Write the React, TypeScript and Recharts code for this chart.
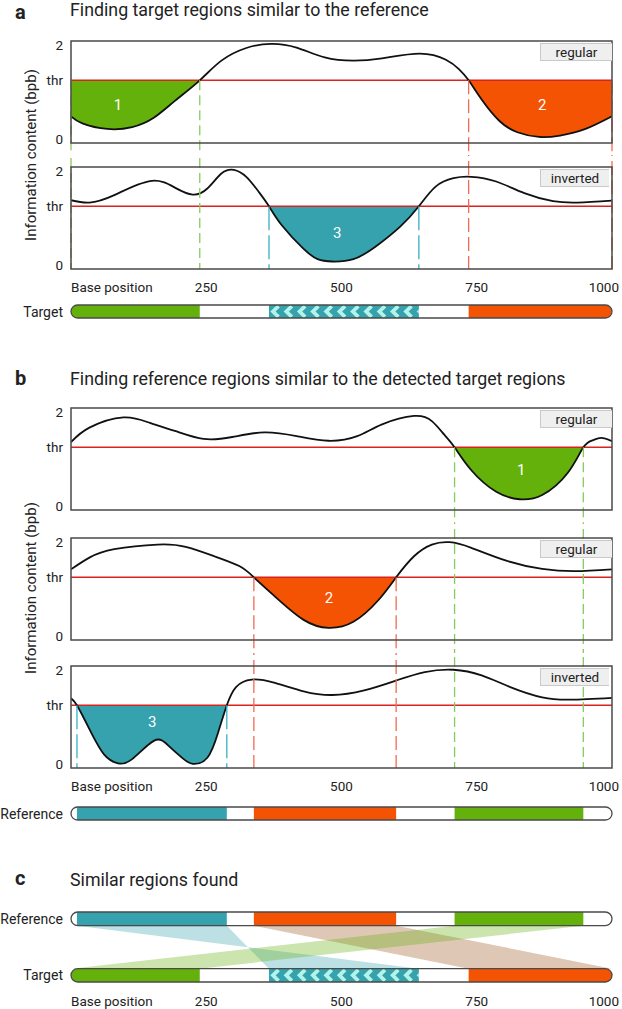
import React from "react";
import {
  ComposedChart,
  Line,
  Area,
  XAxis,
  YAxis,
  ReferenceLine,
  ReferenceArea,
  ReferenceDot,
} from "recharts";

// ============================================
// Data
// ============================================

const THR = 1.25;
const X_TICKS = [0, 250, 500, 750, 1000];
const Y_TICKS = [0, THR, 2];

// information content curves: [base position, bpb]
const curveA1 = [
  [0, 0.48], [21, 0.33], [67, 0.21], [113, 0.25], [153, 0.45], [192, 0.81], [238, 1.25],
  [278, 1.67], [324, 1.94], [370, 2.03], [417, 1.95], [469, 1.74], [522, 1.67], [575, 1.72],
  [645, 1.82], [693, 1.69], [717, 1.49], [735, 1.25], [759, 0.84], [792, 0.38],
  [825, 0.14], [865, 0.04], [904, 0.07], [951, 0.21], [1000, 0.48],
];
const curveA2 = [
  [0, 1.38], [34, 1.33], [80, 1.49], [146, 1.79], [192, 1.65], [225, 1.5], [252, 1.63],
  [278, 1.95], [301, 2.03], [324, 1.88], [347, 1.56], [366, 1.25], [390, 0.84], [430, 0.34],
  [456, 0.12], [483, 0.07], [522, 0.12], [562, 0.38], [608, 0.81], [643, 1.25], [674, 1.67],
  [707, 1.85], [740, 1.88], [786, 1.78], [838, 1.53], [891, 1.36], [937, 1.33], [1000, 1.37],
];
const curveB1 = [
  [0, 1.36], [34, 1.67], [97, 1.89], [146, 1.77], [192, 1.6], [245, 1.43], [298, 1.47],
  [357, 1.57], [417, 1.49], [476, 1.39], [529, 1.49], [575, 1.74], [634, 1.92], [667, 1.81],
  [690, 1.52], [709, 1.25], [740, 0.76], [786, 0.3], [829, 0.14], [871, 0.23], [918, 0.7],
  [947, 1.25], [964, 1.4], [980, 1.45], [1000, 1.38],
];
const curveB2 = [
  [0, 1.42], [34, 1.67], [80, 1.85], [160, 1.95], [212, 1.9], [265, 1.7], [311, 1.49],
  [338, 1.25], [377, 0.84], [430, 0.34], [476, 0.17], [522, 0.3], [568, 0.76], [601, 1.25],
  [634, 1.7], [667, 1.95], [700, 2.0], [740, 1.88], [806, 1.6], [871, 1.43], [931, 1.38],
  [1000, 1.42],
];
const curveB3 = [
  [0, 1.4], [11, 1.25], [34, 0.74], [61, 0.2], [87, 0.01], [113, 0.1], [153, 0.49],
  [179, 0.4], [206, 0.12], [225, 0.0], [252, 0.13], [272, 0.67], [288, 1.25], [305, 1.64],
  [334, 1.8], [377, 1.73], [430, 1.55], [483, 1.47], [542, 1.57], [601, 1.78], [654, 1.96],
  [707, 2.01], [759, 1.89], [812, 1.64], [871, 1.42], [924, 1.37], [1000, 1.41],
];

// regions below threshold
const regionsA1 = [{ id: 1, from: 0, to: 238 }, { id: 2, from: 735, to: 1000 }];
const regionsA2 = [{ id: 3, from: 366, to: 643, inverted: true }];
const regionsB1 = [{ id: 1, from: 709, to: 947 }];
const regionsB2 = [{ id: 2, from: 338, to: 601 }];
const regionsB3 = [{ id: 3, from: 11, to: 288 }];

// where the region numbers sit [position, bpb]
const labelsA1 = [[87, 0.73], [871, 0.73]];
const labelsA2 = [[492, 0.67]];
const labelsB1 = [[832, 0.77]];
const labelsB2 = [[477, 0.8]];
const labelsB3 = [[150, 0.89]];

// ============================================
// Style
// ============================================

const W = 622;
const PLOT_H = 102;
const Y_MIN = -0.09;
const Y_MAX = 2.09;
const TEXT = "#222";
const EDGE = "#4a4a4a";
const RED = "#d9231d";
const CURVE = "natural";

const FILL: Record<number, string> = { 1: "#64b10c", 2: "#f45304", 3: "#35a2ae" };
const DASH_COLOR: Record<number, string> = { 1: "#86cc5c", 2: "#f26a55", 3: "#3ab0c2" };
const DASH: Record<number, string> = { 1: "10 5", 2: "14 5", 3: "24 5" };
const BAND: Record<number, string> = { 1: "#64b10c", 2: "#9e541d", 3: "#35a2ae" };

type Region = { id: number; from: number; to: number; inverted?: boolean };

interface PlotSpec {
  curve: number[][];
  regions: Region[];
  labels: number[][];
  mode: string;
  top: number;
  padTop: number;
  padBottom: number;
}

const panelA: PlotSpec[] = [
  { curve: curveA1, regions: regionsA1, labels: labelsA1, mode: "regular", top: 29, padTop: 12, padBottom: 12 },
  { curve: curveA2, regions: regionsA2, labels: labelsA2, mode: "inverted", top: 155, padTop: 12, padBottom: 26 },
];
const panelB: PlotSpec[] = [
  { curve: curveB1, regions: regionsB1, labels: labelsB1, mode: "regular", top: 396, padTop: 12, padBottom: 14 },
  { curve: curveB2, regions: regionsB2, labels: labelsB2, mode: "regular", top: 524, padTop: 14, padBottom: 13 },
  { curve: curveB3, regions: regionsB3, labels: labelsB3, mode: "inverted", top: 653, padTop: 13, padBottom: 26 },
];

const targetSegs: Region[] = [...regionsA1, ...regionsA2];
const referenceSegs: Region[] = [...regionsB1, ...regionsB2, ...regionsB3].sort((a, b) => a.from - b.from);

// ============================================
// Pieces
// ============================================

const XTick = (props: any) => {
  const { x, y, payload } = props;
  const v = payload.value;
  const anchor = v === 0 ? "start" : v === 1000 ? "end" : "middle";
  return (
    <text x={v === 1000 ? x + 7 : x} y={y} dy="0.71em" textAnchor={anchor} fill={TEXT} fontSize={13.5}>
      {v === 0 ? "Base position" : String(v)}
    </text>
  );
};

const Chevrons = ({ x, y, width, height }: any) => {
  const marks = [];
  for (let cx = 2.5; cx < width; cx += 13.3) {
    marks.push(
      <path
        key={cx}
        d={`M ${cx + 7} 1.2 L ${cx + 1.5} ${height / 2} L ${cx + 7} ${height - 1.2}`}
        stroke="#b2f4ea"
        strokeWidth={3.8}
        fill="none"
      />
    );
  }
  return (
    <svg x={x} y={y} width={width} height={height}>
      {marks}
    </svg>
  );
};

function trackAreas(segs: Region[], y1: number, y2: number, clipId: string, chevrons: boolean) {
  return [
    <ReferenceArea
      key={clipId + "-bg"}
      x1={0}
      x2={1000}
      y1={y1}
      y2={y2}
      ifOverflow="visible"
      zIndex={300}
      shape={(p: any) => (
        <g>
          <defs>
            <clipPath id={clipId}>
              <rect x={p.x} y={p.y} width={p.width} height={p.height} rx={p.height / 2} />
            </clipPath>
          </defs>
          <rect x={p.x} y={p.y} width={p.width} height={p.height} rx={p.height / 2} fill="#fff" />
        </g>
      )}
    />,
    ...segs.map((s) => (
      <ReferenceArea
        key={clipId + s.id}
        x1={s.from}
        x2={s.to}
        y1={y1}
        y2={y2}
        ifOverflow="visible"
        zIndex={310}
        shape={(p: any) => (
          <g clipPath={`url(#${clipId})`}>
            <rect x={p.x} y={p.y} width={p.width} height={p.height} fill={FILL[s.id]} />
            {chevrons && s.inverted ? <Chevrons {...p} /> : null}
          </g>
        )}
      />
    )),
    <ReferenceArea
      key={clipId + "-edge"}
      x1={0}
      x2={1000}
      y1={y1}
      y2={y2}
      ifOverflow="visible"
      zIndex={320}
      shape={(p: any) => (
        <rect x={p.x} y={p.y} width={p.width} height={p.height} rx={p.height / 2} fill="none" stroke={EDGE} strokeWidth={1.3} />
      )}
    />,
  ];
}

function Plot({ plot, carried, last }: { plot: PlotSpec; carried: Region[]; last: boolean }) {
  const data = plot.curve.map(([x, y]) => ({ x, y }));
  const h = plot.padTop + PLOT_H + plot.padBottom;
  const low = last ? Y_MIN : Y_MIN - 5;
  return (
    <div style={{ position: "absolute", left: 0, top: plot.top }}>
      <ComposedChart
        width={W}
        height={h}
        data={data}
        margin={{ top: plot.padTop, right: 10, left: 0, bottom: last ? 0 : plot.padBottom }}
      >
        <XAxis
          type="number"
          dataKey="x"
          domain={[0, 1000]}
          ticks={X_TICKS}
          interval={0}
          hide={!last}
          height={last ? plot.padBottom : 0}
          axisLine={false}
          tickLine={false}
          tickMargin={7}
          tick={<XTick />}
          allowDataOverflow
        />
        <YAxis
          type="number"
          domain={[Y_MIN, Y_MAX]}
          ticks={Y_TICKS}
          interval={0}
          width={71}
          axisLine={false}
          tickLine={false}
          tickFormatter={(v: number) => (v === THR ? "thr" : String(v))}
          tick={{ fill: TEXT, fontSize: 13.5 }}
          allowDataOverflow
        />
        {plot.regions.map((r) => (
          <Area
            key={"fill" + r.id}
            type={CURVE}
            dataKey={(d: any) => (d.x >= r.from && d.x <= r.to ? [d.y, THR] : null)}
            stroke="none"
            fill={FILL[r.id]}
            fillOpacity={1}
            isAnimationActive={false}
            zIndex={100}
          />
        ))}
        <ReferenceLine y={THR} stroke={RED} strokeWidth={1.6} zIndex={200} />
        <Line
          type={CURVE}
          dataKey="y"
          stroke="#111"
          strokeWidth={1.8}
          dot={false}
          activeDot={false}
          isAnimationActive={false}
          zIndex={300}
        />
        {carried.flatMap((r) =>
          [r.from, r.to].map((x) => (
            <ReferenceLine
              key={"c" + r.id + "-" + x}
              segment={[{ x, y: Y_MAX + 5 }, { x, y: low }]}
              stroke={DASH_COLOR[r.id]}
              strokeWidth={1.3}
              strokeDasharray={DASH[r.id]}
              ifOverflow="visible"
              zIndex={350}
            />
          ))
        )}
        {plot.regions.flatMap((r) =>
          [r.from, r.to].map((x) => (
            <ReferenceLine
              key={"o" + r.id + "-" + x}
              segment={[{ x, y: THR }, { x, y: low }]}
              stroke={DASH_COLOR[r.id]}
              strokeWidth={1.3}
              strokeDasharray={DASH[r.id]}
              ifOverflow="visible"
              zIndex={350}
            />
          ))
        )}
        <ReferenceArea
          x1={0}
          x2={1000}
          y1={Y_MIN}
          y2={Y_MAX}
          fill="none"
          stroke={EDGE}
          strokeWidth={1.5}
          fillOpacity={0}
          ifOverflow="visible"
          zIndex={450}
        />
        {plot.regions.map((r, i) => (
          <ReferenceDot
            key={"lab" + r.id}
            x={plot.labels[i][0]}
            y={plot.labels[i][1]}
            r={0}
            zIndex={600}
            shape={(p: any) => (
              <text x={p.cx} y={p.cy} textAnchor="middle" dominantBaseline="central" fill="#fff" fontSize={15}>
                {String(r.id)}
              </text>
            )}
          />
        ))}
      </ComposedChart>
      <div
        style={{
          position: "absolute",
          left: 540,
          top: plot.padTop + 2,
          width: plot.mode === "regular" ? 71 : 68,
          height: 16,
          lineHeight: "16px",
          background: "#efefef",
          border: "1px solid #c9c9c9",
          borderRight: "none",
          fontSize: 13.5,
          textAlign: "center",
          color: TEXT,
        }}
      >
        {plot.mode}
      </div>
    </div>
  );
}

function Panel({ plots }: { plots: PlotSpec[] }) {
  return (
    <>
      {plots.map((p, i) => (
        <Plot
          key={i}
          plot={p}
          carried={plots.slice(0, i).flatMap((q) => q.regions)}
          last={i === plots.length - 1}
        />
      ))}
    </>
  );
}

function Track({ segs, top, clipId, chevrons }: { segs: Region[]; top: number; clipId: string; chevrons: boolean }) {
  return (
    <div style={{ position: "absolute", left: 0, top }}>
      <ComposedChart width={W} height={22} margin={{ top: 4, right: 10, left: 71, bottom: 5 }}>
        <XAxis type="number" dataKey="x" domain={[0, 1000]} hide allowDataOverflow />
        <YAxis type="number" domain={[0, 1]} hide allowDataOverflow />
        {trackAreas(segs, 0, 1, clipId, chevrons)}
      </ComposedChart>
    </div>
  );
}

const C_REF = [0.805, 1];
const C_TGT = [0, 0.19];

function MatchPanel() {
  return (
    <div style={{ position: "absolute", left: 0, top: 905 }}>
      <ComposedChart width={W} height={104} margin={{ top: 7, right: 10, left: 71, bottom: 0 }}>
        <XAxis
          type="number"
          dataKey="x"
          domain={[0, 1000]}
          ticks={X_TICKS}
          interval={0}
          height={27}
          axisLine={false}
          tickLine={false}
          tickMargin={8}
          tick={<XTick />}
          allowDataOverflow
        />
        <YAxis type="number" domain={[0, 1]} hide allowDataOverflow />
        {referenceSegs.map((ref) => {
          const tgt = targetSegs.find((t) => t.id === ref.id)!;
          return (
            <ReferenceArea
              key={"band" + ref.id}
              x1={0}
              x2={1000}
              y1={C_TGT[1]}
              y2={C_REF[0]}
              ifOverflow="visible"
              zIndex={200}
              shape={(p: any) => {
                const sx = (v: number) => p.x + (v / 1000) * p.width;
                const t = p.y;
                const b = p.y + p.height;
                const pts = tgt.inverted
                  ? [[sx(ref.from), t], [sx(ref.to), t], [sx(tgt.from), b], [sx(tgt.to), b]]
                  : [[sx(ref.from), t], [sx(ref.to), t], [sx(tgt.to), b], [sx(tgt.from), b]];
                return <polygon points={pts.map((q) => q.join(",")).join(" ")} fill={BAND[ref.id]} fillOpacity={0.33} />;
              }}
            />
          );
        })}
        {trackAreas(referenceSegs, C_REF[0], C_REF[1], "pill-c-ref", false)}
        {trackAreas(targetSegs, C_TGT[0], C_TGT[1], "pill-c-tgt", true)}
      </ComposedChart>
    </div>
  );
}

const abs = (left: number, top: number, extra: React.CSSProperties = {}): React.CSSProperties => ({
  position: "absolute",
  left,
  top,
  whiteSpace: "nowrap",
  ...extra,
});

const PanelLetter = ({ ch, top }: { ch: string; top: number }) => (
  <div style={abs(15, top, { fontSize: 20, fontWeight: 700, lineHeight: "24px" })}>{ch}</div>
);
const PanelTitle = ({ text, top }: { text: string; top: number }) => (
  <div style={abs(70, top, { fontSize: 17.8, lineHeight: "20px" })}>{text}</div>
);
const YTitle = ({ cy }: { cy: number }) => (
  <div
    style={abs(31 - 150, cy - 10, {
      width: 300,
      lineHeight: "20px",
      fontSize: 15,
      textAlign: "center",
      transform: "rotate(-90deg)",
    })}
  >
    Information content (bpb)
  </div>
);
const TrackName = ({ text, cy }: { text: string; cy: number }) => (
  <div style={abs(0, cy - 9, { width: 63, textAlign: "right", fontSize: 14, lineHeight: "18px" })}>{text}</div>
);

export default function App() {
  return (
    <div
      style={{
        position: "absolute",
        left: 0,
        top: 0,
        width: W,
        height: 1009,
        background: "#fff",
        color: TEXT,
        fontFamily: "Roboto, 'Noto Sans', sans-serif",
        overflow: "hidden",
      }}
    >
      <PanelLetter ch="a" top={0} />
      <PanelTitle text="Finding target regions similar to the reference" top={0} />
      <YTitle cy={155} />
      <Panel plots={panelA} />
      <TrackName text="Target" cy={311.5} />
      <Track segs={targetSegs} top={301} clipId="pill-a" chevrons />

      <PanelLetter ch="b" top={366} />
      <PanelTitle text="Finding reference regions similar to the detected target regions" top={369} />
      <YTitle cy={588} />
      <Panel plots={panelB} />
      <TrackName text="Reference" cy={813.5} />
      <Track segs={referenceSegs} top={803} clipId="pill-b" chevrons={false} />

      <PanelLetter ch="c" top={866} />
      <PanelTitle text="Similar regions found" top={870} />
      <TrackName text="Reference" cy={918.7} />
      <TrackName text="Target" cy={975} />
      <MatchPanel />
    </div>
  );
}
